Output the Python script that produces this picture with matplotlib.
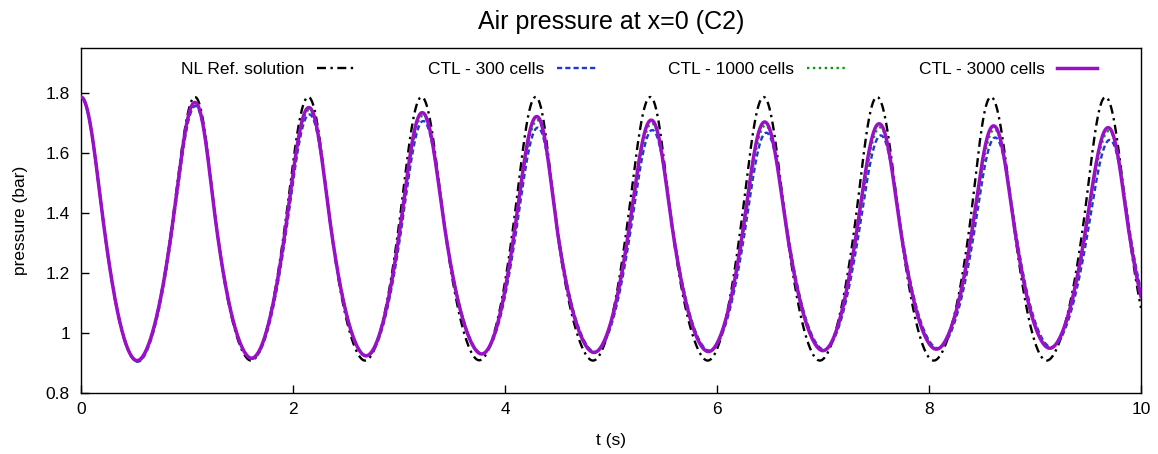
import numpy as np
import matplotlib
matplotlib.use("Agg")
import matplotlib.pyplot as plt

# ---------------- data ----------------
# Each series: times/values of maxima, times of falling mid-level crossings,
# times/values of minima, times of rising mid-level crossings.
SERIES_LABELS = ["NL Ref. solution", "CTL - 300 cells", "CTL - 1000 cells", "CTL - 3000 cells"]

nl_peak_t = [0.0, 1.075, 2.144, 3.213, 4.289, 5.370, 6.440, 7.510, 8.585, 9.665]
nl_peak_v = [1.785, 1.785, 1.785, 1.785, 1.785, 1.785, 1.785, 1.785, 1.785, 1.785]
nl_down_t = [0.218, 1.280, 2.358, 3.432, 4.490, 5.578, 6.655, 7.730, 8.805, 9.882]
nl_trough_t = [0.530, 1.605, 2.680, 3.757, 4.830, 5.912, 6.970, 8.045, 9.110, 10.190]
nl_trough_v = [0.905, 0.907, 0.907, 0.908, 0.907, 0.907, 0.907, 0.907, 0.907, 0.907]
nl_up_t = [0.853, 1.920, 2.995, 4.075, 5.148, 6.222, 7.296, 8.380, 9.450]

c300_peak_t = [0.0, 1.080, 2.155, 3.230, 4.310, 5.390, 6.465, 7.545, 8.625, 9.705]
c300_peak_v = [1.785, 1.755, 1.727, 1.705, 1.683, 1.675, 1.666, 1.657, 1.650, 1.642]
c300_down_t = [0.222, 1.288, 2.370, 3.448, 4.510, 5.600, 6.680, 7.755, 8.835, 9.912]
c300_trough_t = [0.535, 1.615, 2.695, 3.785, 4.850, 5.930, 7.010, 8.085, 9.155, 10.240]
c300_trough_v = [0.903, 0.913, 0.922, 0.930, 0.936, 0.940, 0.944, 0.948, 0.952, 0.955]
c300_up_t = [0.858, 1.930, 3.010, 4.093, 5.170, 6.248, 7.324, 8.410, 9.480]

c1000_peak_t = [0.0, 1.077, 2.152, 3.225, 4.305, 5.385, 6.457, 7.537, 8.617, 9.697]
c1000_peak_v = [1.785, 1.762, 1.742, 1.722, 1.708, 1.697, 1.690, 1.684, 1.677, 1.672]
c1000_down_t = [0.221, 1.285, 2.367, 3.444, 4.505, 5.595, 6.673, 7.748, 8.827, 9.903]
c1000_trough_t = [0.532, 1.612, 2.692, 3.782, 4.845, 5.925, 7.005, 8.077, 9.147, 10.230]
c1000_trough_v = [0.905, 0.914, 0.922, 0.929, 0.935, 0.938, 0.942, 0.946, 0.950, 0.952]
c1000_up_t = [0.856, 1.927, 3.006, 4.089, 5.165, 6.242, 7.317, 8.403, 9.472]

c3000_peak_t = [0.0, 1.075, 2.150, 3.220, 4.300, 5.380, 6.450, 7.530, 8.610, 9.690]
c3000_peak_v = [1.785, 1.767, 1.750, 1.733, 1.720, 1.708, 1.702, 1.696, 1.689, 1.683]
c3000_down_t = [0.220, 1.283, 2.364, 3.440, 4.500, 5.590, 6.667, 7.742, 8.820, 9.895]
c3000_trough_t = [0.530, 1.610, 2.690, 3.780, 4.840, 5.920, 7.000, 8.070, 9.140, 10.220]
c3000_trough_v = [0.907, 0.915, 0.923, 0.929, 0.934, 0.937, 0.940, 0.945, 0.948, 0.950]
c3000_up_t = [0.855, 1.925, 3.003, 4.085, 5.160, 6.236, 7.310, 8.396, 9.465]

X_TICKS = [0, 2, 4, 6, 8, 10]
Y_TICKS = [0.8, 1.0, 1.2, 1.4, 1.6, 1.8]
Y_TICK_LABELS = ["0.8", "1", "1.2", "1.4", "1.6", "1.8"]


# ---------------- smooth curve through the read extrema ----------------
def pchip(x, y, xi):
    x = np.asarray(x, float); y = np.asarray(y, float)
    h = np.diff(x); d = np.diff(y) / h
    m = np.zeros_like(y)
    m[0], m[-1] = d[0], d[-1]
    for k in range(1, len(x) - 1):
        if d[k - 1] * d[k] > 0:
            w1 = 2 * h[k] + h[k - 1]; w2 = h[k] + 2 * h[k - 1]
            m[k] = (w1 + w2) / (w1 / d[k - 1] + w2 / d[k])
    idx = np.clip(np.searchsorted(x, xi) - 1, 0, len(x) - 2)
    hk = h[idx]; s = (xi - x[idx]) / hk
    h00 = 2 * s**3 - 3 * s**2 + 1; h10 = s**3 - 2 * s**2 + s
    h01 = -2 * s**3 + 3 * s**2; h11 = s**3 - s**2
    return h00 * y[idx] + h10 * hk * m[idx] + h01 * y[idx + 1] + h11 * hk * m[idx + 1]


def curve(peak_t, peak_v, down_t, trough_t, trough_v, up_t, t):
    knots = []
    for i in range(len(peak_t)):
        knots += [peak_t[i], down_t[i], trough_t[i]]
        if i < len(up_t):
            knots.append(up_t[i])
    phase = pchip(knots, np.arange(len(knots)) * np.pi / 2, t)
    upper = np.interp(t, peak_t, peak_v)
    lower = np.interp(t, trough_t, trough_v)
    return (upper + lower) / 2 + (upper - lower) / 2 * np.cos(phase)


t = np.linspace(0, 10, 3001)
nl = curve(nl_peak_t, nl_peak_v, nl_down_t, nl_trough_t, nl_trough_v, nl_up_t, t)
c300 = curve(c300_peak_t, c300_peak_v, c300_down_t, c300_trough_t, c300_trough_v, c300_up_t, t)
c1000 = curve(c1000_peak_t, c1000_peak_v, c1000_down_t, c1000_trough_t, c1000_trough_v, c1000_up_t, t)
c3000 = curve(c3000_peak_t, c3000_peak_v, c3000_down_t, c3000_trough_t, c3000_trough_v, c3000_up_t, t)

# ---------------- figure ----------------
plt.rcParams['font.family'] = ['Liberation Sans', 'DejaVu Sans']
W, H = 1158, 454
fig = plt.figure(figsize=(W / 100, H / 100), dpi=100)
ax = fig.add_axes([81 / W, 1 - 392.7 / H, (1141 - 81) / W, (392.7 - 47.5) / H])

ax.plot(t, nl, color="black", lw=1.7, linestyle=(0, (3.8, 1.9, 1.0, 1.9)),
        label=SERIES_LABELS[0], zorder=2)
ax.plot(t, c300, color="#1b3bd0", lw=1.7, linestyle=(0, (2.2, 1.3)),
        label=SERIES_LABELS[1], zorder=3)
ax.plot(t, c1000, color="#0c9a0c", lw=1.7, linestyle=(0, (1.0, 1.5)),
        label=SERIES_LABELS[2], zorder=4)
ax.plot(t, c3000, color="#9a10c8", lw=2.5, linestyle="-",
        label=SERIES_LABELS[3], zorder=5)

ax.set_xlim(0, 10)
ax.set_ylim(0.8, 1.95)
ax.set_xticks(X_TICKS)
ax.set_xticklabels([str(v) for v in X_TICKS])
ax.set_yticks(Y_TICKS)
ax.set_yticklabels(Y_TICK_LABELS)
ax.tick_params(direction="in", length=6, width=1.0, labelsize=12.5, top=False, right=False)
ax.tick_params(axis="y", pad=8)
ax.tick_params(axis="x", pad=7)
for sp in ax.spines.values():
    sp.set_linewidth(1.0)

ax.set_xlabel("t (s)", fontsize=12.5)
ax.xaxis.set_label_coords(0.5, -(440 - 392.7) / (392.7 - 47.5))
ax.xaxis.label.set_va("center")
ax.set_ylabel("pressure (bar)", fontsize=12.5)
ax.yaxis.set_label_coords(-(81 - 20.5) / (1141 - 81), 0.5)
ax.yaxis.label.set_va("center")

fig.text(611 / W, 1 - 29.3 / H, "Air pressure at x=0 (C2)", fontsize=18,
         ha="center", va="baseline")

leg = ax.legend(loc="center", bbox_to_anchor=(639 / W, 1 - 69 / H),
                bbox_transform=fig.transFigure, ncol=4, frameon=False,
                markerfirst=False, fontsize=12.5, handlelength=2.3,
                handletextpad=0.75, columnspacing=4.1, borderpad=0, borderaxespad=0)

fig.savefig("out.png", dpi=100)
